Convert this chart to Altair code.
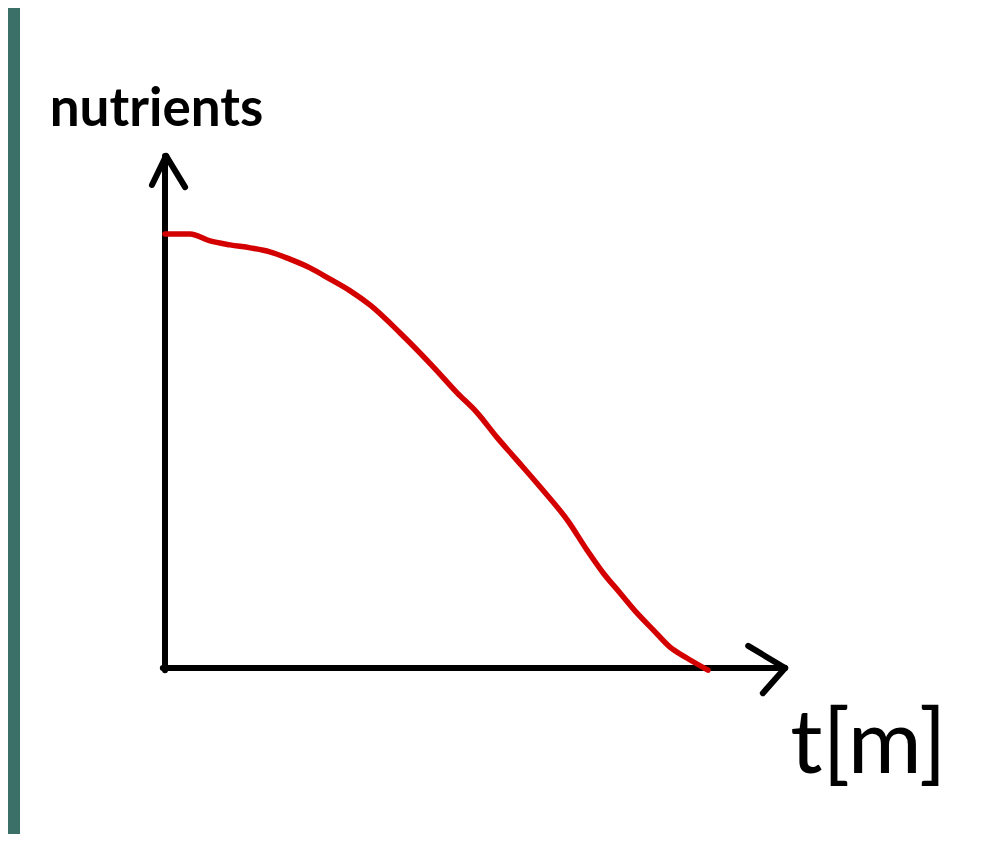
import altair as alt
import pandas as pd

# Sketched curve: nutrients falling over time
t_values = [0.00, 0.46, 0.83, 1.20, 1.57, 1.93, 2.30, 2.67, 3.04, 3.41, 3.78,
            4.33, 4.94, 5.38, 5.75, 6.11, 6.48, 6.91, 7.42, 7.77, 8.07, 8.38,
            8.69, 8.99, 9.30, 9.61, 10.00]
nutrient_values = [10.00, 10.00, 9.84, 9.75, 9.68, 9.59, 9.42, 9.22, 8.96, 8.69,
                   8.36, 7.72, 6.94, 6.34, 5.88, 5.32, 4.79, 4.17, 3.39, 2.72,
                   2.19, 1.73, 1.27, 0.88, 0.48, 0.23, -0.05]

# Hand-drawn axis strokes with arrow heads (in data units)
stroke_x1 = [0.00, -0.04, 0.02, 0.02, 11.42, 11.42]
stroke_y1 = [-0.05, 0.00, 11.80, 11.80, 0.00, 0.00]
stroke_x2 = [0.00, 11.42, -0.24, 0.37, 10.74, 11.01]
stroke_y2 = [11.80, 0.00, 11.13, 11.08, 0.51, -0.58]

x_title = "t[m]"
y_title = "nutrients"

curve = pd.DataFrame({"t": t_values, "n": nutrient_values})
strokes = pd.DataFrame({"x": stroke_x1, "y": stroke_y1, "x2": stroke_x2, "y2": stroke_y2})

W, H = 970, 826
xscale = alt.Scale(domain=[0, 10], range=[157, 700], nice=False, zero=False)
yscale = alt.Scale(domain=[0, 10], range=[660, 226], nice=False, zero=False)

x_axis = alt.Axis(domain=False, ticks=False, labels=False, grid=False,
                  title=x_title, titleFont="Lato", titleFontSize=90,
                  titleFontWeight="normal", titleColor="black",
                  titleX=860, titleY=-62, titleAlign="center",
                  titleBaseline="alphabetic", titleAngle=0)
y_axis = alt.Axis(domain=False, ticks=False, labels=False, grid=False,
                  title=y_title, titleFont="Lato", titleFontSize=53,
                  titleFontWeight="bold", titleColor="black",
                  titleX=148, titleY=117, titleAlign="center",
                  titleBaseline="alphabetic", titleAngle=0)

side = alt.Chart(alt.Data(values=[{"k": 1}])).mark_rect(color="#3a7068").encode(
    x=alt.value(0), x2=alt.value(12), y=alt.value(0), y2=alt.value(H)
)

axes_lines = alt.Chart(strokes).mark_rule(
    color="black", strokeWidth=6, strokeCap="round"
).encode(
    x=alt.X("x:Q", scale=xscale, axis=x_axis),
    y=alt.Y("y:Q", scale=yscale, axis=y_axis),
    x2="x2:Q",
    y2="y2:Q",
)

line = alt.Chart(curve).mark_line(
    color="#d40000", strokeWidth=5.5, strokeCap="round", interpolate="monotone"
).encode(
    x=alt.X("t:Q", scale=xscale, axis=x_axis),
    y=alt.Y("n:Q", scale=yscale, axis=y_axis),
)

chart = alt.layer(side, axes_lines, line).properties(
    width=W, height=H, padding=0, autosize="none", background="white"
).configure_view(stroke=None)

chart.save("out.html", embed_options={"renderer": "svg", "actions": False})
